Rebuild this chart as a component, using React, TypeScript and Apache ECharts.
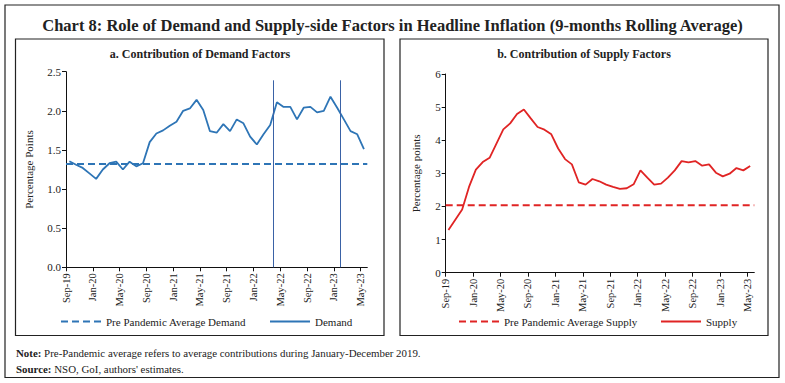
import React, { useEffect, useRef } from 'react';
import * as echarts from 'echarts';

const months = [
  'Sep-19', 'Oct-19', 'Nov-19', 'Dec-19',
  'Jan-20', 'Feb-20', 'Mar-20', 'Apr-20', 'May-20', 'Jun-20', 'Jul-20', 'Aug-20', 'Sep-20', 'Oct-20', 'Nov-20', 'Dec-20',
  'Jan-21', 'Feb-21', 'Mar-21', 'Apr-21', 'May-21', 'Jun-21', 'Jul-21', 'Aug-21', 'Sep-21', 'Oct-21', 'Nov-21', 'Dec-21',
  'Jan-22', 'Feb-22', 'Mar-22', 'Apr-22', 'May-22', 'Jun-22', 'Jul-22', 'Aug-22', 'Sep-22', 'Oct-22', 'Nov-22', 'Dec-22',
  'Jan-23', 'Feb-23', 'Mar-23', 'Apr-23', 'May-23', 'Jun-23',
];

const demand = [
  1.355, 1.31, 1.27, 1.2, 1.13, 1.25, 1.33, 1.35, 1.25, 1.35,
  1.29, 1.33, 1.6, 1.71, 1.75, 1.81, 1.86, 2.0, 2.03, 2.14,
  2.01, 1.74, 1.72, 1.83, 1.74, 1.89, 1.84, 1.67, 1.57, 1.7,
  1.82, 2.11, 2.05, 2.05, 1.89, 2.04, 2.05, 1.98, 2.0, 2.18,
  2.04, 1.89, 1.74, 1.7, 1.51,
];

const supply = [
  1.29, 1.6, 1.91, 2.59, 3.11, 3.34, 3.47, 3.9, 4.33, 4.51,
  4.79, 4.93, 4.66, 4.4, 4.32, 4.18, 3.75, 3.43, 3.27, 2.73,
  2.66, 2.83, 2.76, 2.66, 2.59, 2.53, 2.55, 2.67, 3.09, 2.87,
  2.66, 2.69, 2.87, 3.09, 3.37, 3.33, 3.37, 3.23, 3.27, 3.02,
  2.91, 2.99, 3.16, 3.09, 3.22,
];

const demandAvg = 1.32;
const supplyAvg = 2.04;
const markerMonths = ['Apr-22', 'Feb-23'];
const markerTop = 2.39;

const FONT = 'Liberation Serif';
const BLUE = '#2E75B6';
const RED = '#E02424';
const INK = '#222';

function catAxis(gridIndex: number) {
  return {
    type: 'category',
    gridIndex,
    data: months,
    boundaryGap: false,
    axisLine: { lineStyle: { color: '#111', width: 1 } },
    axisTick: { interval: 3, length: 4, lineStyle: { color: '#111' } },
    axisLabel: { interval: 3, rotate: 90, fontSize: 10.5, color: INK, fontFamily: FONT, margin: 6 },
    splitLine: { show: false },
  };
}

function valAxis(gridIndex: number) {
  return { type: 'value', gridIndex, min: 0, max: months.length - 1, show: false };
}

function yAx(gridIndex: number, max: number, interval: number, name: string, gap: number, digits: number) {
  return {
    type: 'value',
    gridIndex,
    min: 0,
    max,
    interval,
    name,
    nameLocation: 'middle',
    nameGap: gap,
    nameTextStyle: { fontSize: 11, color: INK, fontFamily: FONT },
    axisLine: { show: true, lineStyle: { color: '#111', width: 1 } },
    axisTick: { show: true, length: 4, lineStyle: { color: '#111' } },
    axisLabel: {
      fontSize: 11,
      color: INK,
      fontFamily: FONT,
      margin: 5,
      formatter: (v: number) => v.toFixed(digits),
    },
    splitLine: { show: false },
  };
}

function legendAt(name: string, left: number) {
  return {
    data: [name],
    left,
    top: 311,
    itemWidth: 40,
    itemHeight: 12,
    itemGap: 0,
    itemStyle: { opacity: 0 },
    textStyle: { fontSize: 11, color: INK, fontFamily: FONT },
    selectedMode: false,
  };
}

const option = {
  animation: false,
  backgroundColor: '#fff',
  textStyle: { fontFamily: FONT },
  title: {
    text: 'Chart 8: Role of Demand and Supply-side Factors in Headline Inflation (9-months Rolling Average)',
    left: 'center',
    top: 12,
    textStyle: { fontSize: 16.5, fontWeight: 'bold', color: INK, fontFamily: FONT },
  },
  grid: [
    { left: 66, top: 71.7, width: 301.3, height: 195.6 },
    { left: 445.7, top: 74, width: 308.6, height: 198.7 },
  ],
  xAxis: [catAxis(0), valAxis(0), catAxis(1), valAxis(1)],
  yAxis: [
    yAx(0, 2.5, 0.5, 'Percentage Points', 32, 1),
    yAx(1, 6, 1, 'Percentage points', 24, 0),
  ],
  legend: [
    legendAt('Pre Pandemic Average Demand', 55),
    legendAt('Demand', 264),
    legendAt('Pre Pandemic Average Supply', 453),
    legendAt('Supply', 655),
  ],
  series: [
    {
      name: 'Pre Pandemic Average Demand',
      type: 'line',
      xAxisIndex: 0,
      yAxisIndex: 0,
      data: months.map(() => demandAvg),
      symbol: 'none',
      lineStyle: { color: BLUE, width: 2, type: [7, 4] },
      itemStyle: { color: BLUE },
      silent: true,
    },
    {
      name: 'Demand',
      type: 'line',
      xAxisIndex: 1,
      yAxisIndex: 0,
      data: demand.map((v, i) => [i + 0.5, v]),
      symbol: 'none',
      lineStyle: { color: BLUE, width: 1.8 },
      itemStyle: { color: BLUE },
      markLine: {
        silent: true,
        symbol: 'none',
        label: { show: false },
        lineStyle: { color: '#3A62A6', width: 1, type: 'solid' },
        data: markerMonths.map((m) => [
          { coord: [months.indexOf(m), 0] },
          { coord: [months.indexOf(m), markerTop] },
        ]),
      },
    },
    {
      name: 'Pre Pandemic Average Supply',
      type: 'line',
      xAxisIndex: 2,
      yAxisIndex: 1,
      data: months.map(() => supplyAvg),
      symbol: 'none',
      lineStyle: { color: RED, width: 2, type: [7, 4] },
      itemStyle: { color: RED },
      silent: true,
    },
    {
      name: 'Supply',
      type: 'line',
      xAxisIndex: 3,
      yAxisIndex: 1,
      data: supply.map((v, i) => [i + 0.4, v]),
      symbol: 'none',
      lineStyle: { color: RED, width: 1.8 },
      itemStyle: { color: RED },
    },
  ],
  graphic: [
    { type: 'rect', shape: { x: 5, y: 5, width: 774, height: 372.5 }, style: { fill: 'none', stroke: '#222', lineWidth: 1.2 }, silent: true },
    { type: 'rect', shape: { x: 15.5, y: 39, width: 368.5, height: 296.5 }, style: { fill: 'none', stroke: '#222', lineWidth: 1.2 }, silent: true },
    { type: 'rect', shape: { x: 400, y: 39, width: 368, height: 296.5 }, style: { fill: 'none', stroke: '#222', lineWidth: 1.2 }, silent: true },
    {
      type: 'text', x: 200, y: 53.5,
      style: { text: 'a. Contribution of Demand Factors', fill: INK, font: `bold 12px "${FONT}"`, textAlign: 'center', textVerticalAlign: 'middle' },
      silent: true,
    },
    {
      type: 'text', x: 584, y: 53.5,
      style: { text: 'b. Contribution of Supply Factors', fill: INK, font: `bold 12px "${FONT}"`, textAlign: 'center', textVerticalAlign: 'middle' },
      silent: true,
    },
    {
      type: 'text', x: 16, y: 352.5,
      style: {
        text: '{b|Note:} Pre-Pandemic average refers to average contributions during January-December 2019.',
        fill: INK, fontSize: 10.9, fontFamily: FONT, textVerticalAlign: 'middle',
        rich: { b: { fontWeight: 'bold', fontSize: 10.9, fontFamily: FONT, fill: INK } },
      },
      silent: true,
    },
    {
      type: 'text', x: 16, y: 368.5,
      style: {
        text: "{b|Source:} NSO, GoI, authors' estimates.",
        fill: INK, fontSize: 10.9, fontFamily: FONT, textVerticalAlign: 'middle',
        rich: { b: { fontWeight: 'bold', fontSize: 10.9, fontFamily: FONT, fill: INK } },
      },
      silent: true,
    },
  ],
};

export default function App() {
  const ref = useRef<HTMLDivElement>(null);
  useEffect(() => {
    document.body.style.margin = '0';
    const chart = echarts.init(ref.current as HTMLDivElement, null, { renderer: 'svg' });
    chart.setOption(option as any);
    return () => chart.dispose();
  }, []);
  return <div ref={ref} style={{ width: 785, height: 383, background: '#fff' }} />;
}
